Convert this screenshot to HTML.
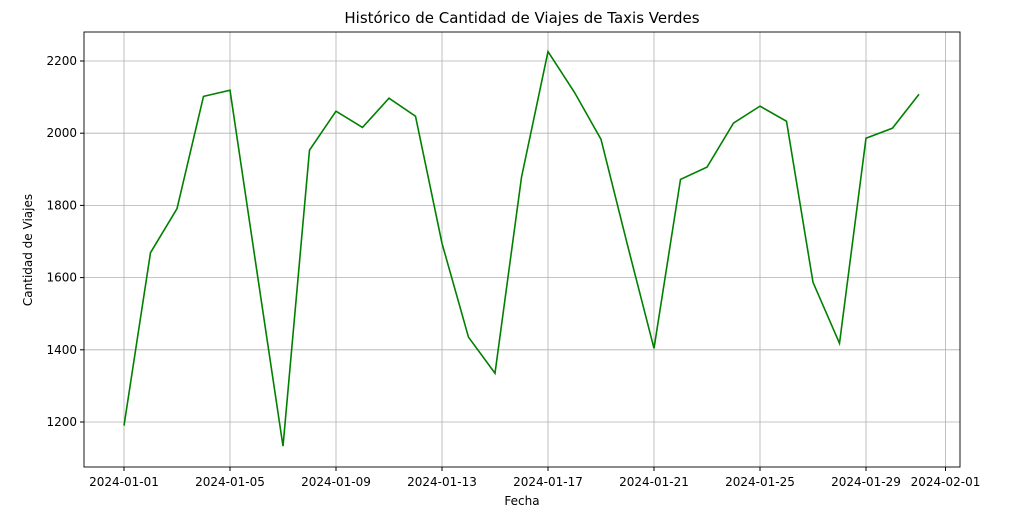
<!DOCTYPE html>
<html><head><meta charset="utf-8"><style>
body{margin:0;background:#fff;font-family:"Liberation Sans","DejaVu Sans",sans-serif}
svg text{font-family:"DejaVu Sans","Liberation Sans",sans-serif;fill:#000}
</style></head><body>
<svg id="chart" width="1012" height="521" xmlns="http://www.w3.org/2000/svg">
<rect width="1012" height="521" fill="#fff"/>
<text x="522" y="23" font-size="15" text-anchor="middle">Histórico de Cantidad de Viajes de Taxis Verdes</text>
<g id="grid"></g><g id="xt"></g><g id="yt"></g>
<path id="line" fill="none" stroke="#008000" stroke-width="1.6"/>
<rect x="84" y="32" width="876" height="435" fill="none" stroke="#000" stroke-width="0.9"/>
<text x="522" y="505" font-size="12" text-anchor="middle">Fecha</text>
<text transform="translate(32,250) rotate(-90)" font-size="12" text-anchor="middle">Cantidad de Viajes</text>
</svg>
<script>
const days=[1,2,3,4,5,6,7,8,9,10,11,12,13,14,15,16,17,18,19,20,21,22,23,24,25,26,27,28,29,30,31];
const trips=[1190,1669,1791,2102,2119,1625,1133,1953,2061,2016,2097,2047,1695,1435,1335,1878,2226,2113,1983,1690,1404,1872,1906,2028,2075,2033,1587,1418,1986,2014,2108];
const xTickDays=[1,5,9,13,17,21,25,29,32];
const xTickLabels=["2024-01-01","2024-01-05","2024-01-09","2024-01-13","2024-01-17","2024-01-21","2024-01-25","2024-01-29","2024-02-01"];
const yTicks=[1200,1400,1600,1800,2000,2200];
const X=d=>124+(d-1)*26.5, Y=v=>422-(v-1200)*0.361;
const ns="http://www.w3.org/2000/svg";
function mk(t,a,p){const e=document.createElementNS(ns,t);for(const k in a)e.setAttribute(k,a[k]);document.getElementById(p).appendChild(e);return e;}
xTickDays.forEach((d,i)=>{
 const g=mk('line',{x1:X(d),x2:X(d),y1:32,y2:467,stroke:'#b0b0b0','stroke-width':0.8},'grid');
 
 
 const t=mk('line',{x1:X(d),x2:X(d),y1:467,y2:471,stroke:'#000'},'xt');
 
 
 const l=mk('text',{x:X(d),y:486,'font-size':12,'text-anchor':'middle'},'xt');
 l.textContent=xTickLabels[i];
 
 
});
yTicks.forEach(v=>{
 const g=mk('line',{x1:84,x2:960,y1:Y(v),y2:Y(v),stroke:'#b0b0b0','stroke-width':0.8},'grid');
 
 
 const t=mk('line',{x1:80,x2:84,y1:Y(v),y2:Y(v),stroke:'#000'},'yt');
 
 
 const l=mk('text',{x:77,y:Y(v)+4,'font-size':12,'text-anchor':'end'},'yt');
 l.textContent=v;
 
 
});
document.getElementById('line').setAttribute('d',days.map((d,i)=>(i?'L':'M')+X(d)+','+Y(trips[i])).join(''));
</script>
</body></html>
